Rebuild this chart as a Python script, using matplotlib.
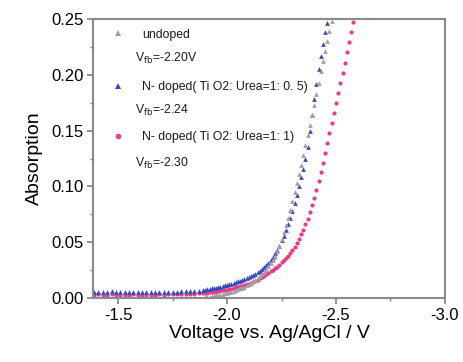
import matplotlib
matplotlib.use("Agg")
import matplotlib.pyplot as plt

plt.rcParams['font.family'] = ['Liberation Sans', 'DejaVu Sans']

# voltages (V vs Ag/AgCl): coarse grid on the flat part, fine grid on the rise
volt_flat = [-1.39, -1.41, -1.43, -1.45, -1.47, -1.49, -1.51, -1.53, -1.55,
             -1.57, -1.59, -1.61, -1.63, -1.65, -1.67, -1.69, -1.71, -1.73,
             -1.75, -1.77, -1.79, -1.81, -1.83, -1.85, -1.87, -1.89]
volt_rise = [-1.90, -1.91, -1.92, -1.93, -1.94, -1.95, -1.96, -1.97, -1.98, -1.99,
             -2.00, -2.01, -2.02, -2.03, -2.04, -2.05, -2.06, -2.07, -2.08, -2.09,
             -2.10, -2.11, -2.12, -2.13, -2.14, -2.15, -2.16, -2.17, -2.18, -2.19,
             -2.20, -2.21, -2.22, -2.23, -2.24, -2.25, -2.26, -2.27, -2.28, -2.29,
             -2.30, -2.31, -2.32, -2.33, -2.34, -2.35, -2.36, -2.37, -2.38, -2.39,
             -2.40, -2.41, -2.42, -2.43, -2.44, -2.45, -2.46, -2.47, -2.48, -2.49,
             -2.50, -2.51, -2.52, -2.53, -2.54, -2.55, -2.56, -2.57, -2.58, -2.59]

# undoped (only rises out of zero near -1.9 V)
undoped = [0.0006, 0.0009, 0.0012, 0.0015, 0.0019, 0.0023, 0.0027, 0.0031, 0.0036, 0.0041,
           0.0046, 0.0052, 0.0058, 0.0064, 0.0071, 0.0078, 0.0086, 0.0094, 0.0103, 0.0113,
           0.0124, 0.0136, 0.0149, 0.0163, 0.0178, 0.0195, 0.0214, 0.0235, 0.0258, 0.0283,
           0.0310, 0.0340, 0.0375, 0.0420, 0.0470, 0.0530, 0.0590, 0.0650, 0.0720, 0.0790,
           0.0870, 0.0950, 0.1030, 0.1110, 0.1190, 0.1280, 0.1370, 0.1460, 0.1550, 0.1640,
           0.1730, 0.1830, 0.1930, 0.2030, 0.2120, 0.2210, 0.2300, 0.2390, 0.2480, 0.2570]

# N-doped, TiO2:Urea = 1:0.5
half_flat = [0.0055, 0.0058, 0.0052, 0.0056, 0.0060, 0.0054, 0.0050, 0.0057, 0.0053,
             0.0055, 0.0058, 0.0052, 0.0054, 0.0050, 0.0053, 0.0056, 0.0052, 0.0055,
             0.0058, 0.0056, 0.0060, 0.0062, 0.0060, 0.0064, 0.0066, 0.0070]
half_rise = [0.0075, 0.0078, 0.0082, 0.0086, 0.0090, 0.0094, 0.0098, 0.0102, 0.0107, 0.0112,
             0.0117, 0.0122, 0.0127, 0.0133, 0.0139, 0.0148, 0.0152, 0.0158, 0.0166, 0.0175,
             0.0184, 0.0194, 0.0205, 0.0217, 0.0230, 0.0244, 0.0259, 0.0275, 0.0292, 0.0315,
             0.0340, 0.0370, 0.0400, 0.0430, 0.0470, 0.0520, 0.0560, 0.0610, 0.0660, 0.0720,
             0.0780, 0.0850, 0.0920, 0.1000, 0.1080, 0.1160, 0.1250, 0.1350, 0.1500, 0.1640,
             0.1780, 0.1920, 0.2050, 0.2170, 0.2280, 0.2380, 0.2460, 0.2540]

# N-doped, TiO2:Urea = 1:1
one_flat = [0.0030, 0.0033, 0.0028, 0.0031, 0.0034, 0.0030, 0.0027, 0.0031, 0.0029,
            0.0032, 0.0030, 0.0028, 0.0031, 0.0029, 0.0030, 0.0033, 0.0031, 0.0034,
            0.0032, 0.0035, 0.0036, 0.0038, 0.0037, 0.0040, 0.0041, 0.0043]
one_rise = [0.0045, 0.0047, 0.0050, 0.0052, 0.0055, 0.0058, 0.0061, 0.0064, 0.0068, 0.0072,
            0.0076, 0.0080, 0.0085, 0.0090, 0.0095, 0.0100, 0.0105, 0.0110, 0.0116, 0.0122,
            0.0129, 0.0137, 0.0145, 0.0154, 0.0164, 0.0175, 0.0187, 0.0199, 0.0212, 0.0226,
            0.0240, 0.0255, 0.0270, 0.0280, 0.0300, 0.0320, 0.0340, 0.0360, 0.0380, 0.0400,
            0.0430, 0.0460, 0.0490, 0.0530, 0.0570, 0.0610, 0.0660, 0.0710, 0.0770, 0.0830,
            0.0900, 0.0970, 0.1050, 0.1130, 0.1210, 0.1300, 0.1390, 0.1480, 0.1570, 0.1660,
            0.1750, 0.1840, 0.1930, 0.2020, 0.2110, 0.2200, 0.2290, 0.2380, 0.2470, 0.2560]

labels = ["undoped", "N- doped( Ti O2: Urea=1: 0. 5)", "N- doped( Ti O2: Urea=1: 1)"]
vfb = ["V$_{\\mathrm{fb}}$=-2.20V", "V$_{\\mathrm{fb}}$=-2.24", "V$_{\\mathrm{fb}}$=-2.30"]
colors = ["#a0a0a0", "#3a48c0", "#ec3c88"]
markers = ["^", "^", "o"]

fig = plt.figure(figsize=(4.64, 3.62), dpi=100)
ax = fig.add_axes([0.2004, 0.1768, 0.7586, 0.7707])

ax.plot(volt_flat + volt_rise, one_flat + one_rise, ls='none', marker='o',
        ms=3.0, color=colors[2], mew=0)
ax.plot(volt_flat + volt_rise[:len(half_rise)], half_flat + half_rise, ls='none',
        marker='^', ms=3.4, color=colors[1], mew=0)
ax.plot(volt_rise[:len(undoped)], undoped, ls='none', marker='^', ms=3.4,
        color=colors[0], mew=0)

ax.set_xlim(-1.385, -3.0)
ax.set_ylim(0, 0.25)
ax.set_xticks([-1.5, -2.0, -2.5, -3.0])
ax.set_xticklabels(["-1.5", "-2.0", "-2.5", "-3.0"])
ax.set_xticks([-1.75, -2.25, -2.75], minor=True)
ax.set_yticks([0.0, 0.05, 0.10, 0.15, 0.20, 0.25])
ax.set_yticklabels(["0.00", "0.05", "0.10", "0.15", "0.20", "0.25"])
ax.set_yticks([0.025, 0.075, 0.125, 0.175, 0.225], minor=True)
ax.tick_params(which='major', direction='out', length=4, width=1.2,
               color='#808080', labelsize=12, pad=3)
ax.tick_params(which='minor', direction='out', length=2.5, width=1.0, color='#808080')
for sp in ax.spines.values():
    sp.set_color('#8a8a8a')
    sp.set_linewidth(1.5)

ax.set_xlabel("Voltage vs. Ag/AgCl / V", fontsize=14, labelpad=2)
ax.set_ylabel("Absorption", fontsize=14, labelpad=6)

# hand made legend
mark_y = [0.950, 0.760, 0.581]
text_y = [0.943, 0.756, 0.577]
vfb_y = [0.858, 0.674, 0.484]
for i in range(3):
    ax.plot([0.072], [mark_y[i]], marker=markers[i], ms=4, color=colors[i],
            mew=0, transform=ax.transAxes, clip_on=False)
    ax.text(0.139, text_y[i], labels[i], transform=ax.transAxes, fontsize=8.8,
            va='center', ha='left', color='#1a1a1a')
    ax.text(0.118, vfb_y[i], vfb[i], transform=ax.transAxes, fontsize=8.8,
            va='center', ha='left', color='#1a1a1a')

fig.savefig("out.png", dpi=100)
